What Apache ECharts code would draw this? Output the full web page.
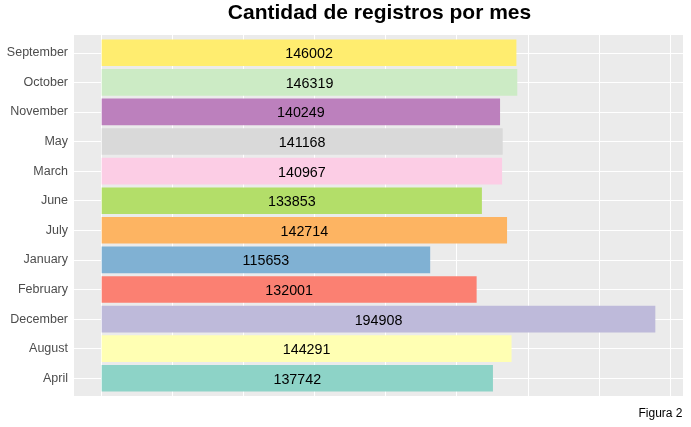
<!DOCTYPE html>
<html>
<head>
<meta charset="utf-8">
<script src="https://cdn.jsdelivr.net/npm/echarts@6/dist/echarts.min.js"></script>
<style>html,body{margin:0;padding:0;background:#fff}#c{width:691px;height:427px}</style>
</head>
<body>
<div id="c"></div>
<script>
// Data (bottom to top, as drawn)
var months = ['April','August','December','February','January','July','June','March','May','November','October','September'];
var counts = [137742,144291,194908,132001,115653,142714,133853,140967,141168,140249,146319,146002];
var colors = ['#8DD3C7','#FFFFB3','#BEBADA','#FB8072','#80B1D3','#FDB462','#B3DE69','#FCCDE5','#D9D9D9','#BC80BD','#CCEBC5','#FFED6F'];
var xBreaks = [0,25000,50000,75000,100000,125000,150000,175000,200000];
var titleText = 'Cantidad de registros por mes';
var captionText = 'Figura 2';

var FONT = '"Liberation Sans", Arial, sans-serif';
var xMin = -9745, xMax = 204653;

var chart = echarts.init(document.getElementById('c'), null, {renderer: 'canvas'});
var unit = 361 / 12.2;
chart.setOption({
  animation: false,
  backgroundColor: '#ffffff',
  grid: [
    {left: 74, width: 609, top: 35, height: 361, show: true, backgroundColor: '#EBEBEB', borderWidth: 0},
    {left: 74, width: 609, top: 35 + 0.1 * unit, height: 12 * unit, show: false}
  ],
  xAxis: [
    {gridIndex: 0, type: 'value', min: xMin, max: xMax, show: false},
    {gridIndex: 1, type: 'value', min: xMin, max: xMax, show: false}
  ],
  yAxis: [
    {gridIndex: 0, type: 'value', min: 0, max: 1, show: false},
    {gridIndex: 1, type: 'category', data: months,
     axisLine: {show: false}, axisTick: {show: false}, splitLine: {show: false},
     axisLabel: {color: '#4D4D4D', fontSize: 12.5, fontFamily: FONT, margin: 6, padding: [3, 0, 0, 0]}}
  ],
  graphic: [
    {type: 'text', x: 379.5, y: 13.5, style: {text: titleText, font: 'bold 21px ' + FONT, fill: '#000', textAlign: 'center', textVerticalAlign: 'middle'}},
    {type: 'text', x: 682.5, y: 414, style: {text: captionText, font: '12px ' + FONT, fill: '#000', textAlign: 'right', textVerticalAlign: 'middle'}}
  ],
  series: [
    {type: 'line', xAxisIndex: 0, yAxisIndex: 0, data: [], z: 1, silent: true,
     markLine: {silent: true, symbol: 'none', z: 1, animation: false, label: {show: false},
       lineStyle: {color: '#ffffff', width: 1, type: 'solid'},
       data: xBreaks.map(function (v) { return {xAxis: v}; })}},
    {type: 'line', xAxisIndex: 1, yAxisIndex: 1, data: [], z: 1, silent: true,
     markLine: {silent: true, symbol: 'none', z: 1, animation: false, label: {show: false},
       lineStyle: {color: '#ffffff', width: 1, type: 'solid'},
       data: months.map(function (m) { return {yAxis: m}; })}},
    {type: 'bar', xAxisIndex: 1, yAxisIndex: 1, z: 3, barWidth: '90%',
     data: counts.map(function (v, i) { return {value: v, itemStyle: {color: colors[i]}}; }),
     label: {show: true, position: 'inside', color: '#000', fontSize: 14.3, fontFamily: FONT, offset: [0, 1.5]}}
  ]
});
</script>
</body>
</html>
